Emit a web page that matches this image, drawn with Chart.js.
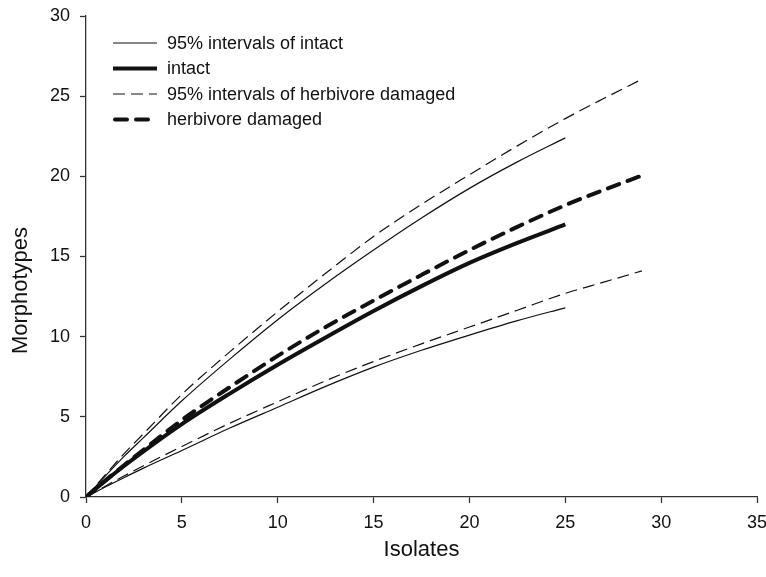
<!DOCTYPE html>
<html>
<head>
<meta charset="utf-8">
<title>Morphotype accumulation</title>
<script src="https://cdn.jsdelivr.net/npm/chart.js@4/dist/chart.umd.min.js"></script>
<style>
  html, body { margin: 0; padding: 0; background: #fff; }
  #wrap { width: 766px; height: 577px; position: relative; }
</style>
</head>
<body>
<div id="wrap"><canvas id="chart"></canvas></div>
<script>
// rarefaction curves, read at these numbers of isolates
let isolatesIntact = [0, 1, 2, 3, 5, 7.5, 10, 12.5, 15, 17.5, 20, 22.5, 25]
let intactMean = [0, 1.0, 1.95, 2.85, 4.55, 6.45, 8.25, 9.95, 11.6, 13.15, 14.6, 15.85, 17.0]
let intactUpper = [0, 1.3, 2.55, 3.7, 6.0, 8.6, 11.06, 13.3, 15.4, 17.4, 19.25, 20.9, 22.4]
let intactLower = [0, 0.62, 1.22, 1.8, 2.9, 4.3, 5.6, 6.9, 8.1, 9.15, 10.1, 11.0, 11.8]

let isolatesDamaged = [0, 1, 2, 3, 5, 7.5, 10, 12.5, 15, 17.5, 20, 22.5, 25, 27, 29]
let damagedMean = [0, 1.02, 2.0, 2.95, 4.8, 6.85, 8.8, 10.6, 12.25, 13.85, 15.4, 16.85, 18.2, 19.15, 20.05]
let damagedUpper = [0, 1.38, 2.72, 3.95, 6.4, 9.05, 11.56, 13.95, 16.25, 18.25, 20.1, 21.9, 23.6, 24.85, 26.06]
let damagedLower = [0, 0.67, 1.32, 1.95, 3.15, 4.6, 5.94, 7.25, 8.45, 9.55, 10.6, 11.65, 12.7, 13.4, 14.1]

let xTickValues = [0, 5, 10, 15, 20, 25, 30, 35]
let yTickValues = [0, 5, 10, 15, 20, 25, 30]

let legendLabels = [
  '95% intervals of intact',
  'intact',
  '95% intervals of herbivore damaged',
  'herbivore damaged'
]

const FONT = "'Liberation Sans', Arial, sans-serif"
const INK = '#111'

function toPoints(xs, ys) {
  return xs.map((x, i) => ({ x: x, y: ys[i] }))
}

function curve(label, xs, ys, style) {
  return {
    label: label,
    data: toPoints(xs, ys),
    borderColor: INK,
    backgroundColor: INK,
    borderWidth: style.width,
    borderDash: style.dash || [],
    borderCapStyle: style.cap || 'butt',
    pointRadius: 0,
    fill: false,
    cubicInterpolationMode: 'monotone'
  }
}

let thin = { width: 1.2 }
let thick = { width: 4 }
let thinDash = { width: 1.2, dash: [12, 6] }
let thickDash = { width: 4, dash: [12, 9], cap: 'round' }

// legend drawn inside the plot, top left
const insideLegend = {
  id: 'insideLegend',
  afterDatasetsDraw: (chart) => {
    const { ctx, chartArea } = chart
    // legend row i takes the style of this dataset
    let rows = [0, 2, 4, 3]
    ctx.save()
    ctx.font = '18px ' + FONT
    ctx.textBaseline = 'middle'
    ctx.fillStyle = INK
    rows.forEach((di, i) => {
      let ds = chart.data.datasets[di]
      let y = chartArea.top + 27 + i * 25.5
      let x0 = chartArea.left + 27
      ctx.beginPath()
      ctx.strokeStyle = ds.borderColor
      ctx.lineWidth = ds.borderWidth
      ctx.lineCap = ds.borderCapStyle
      ctx.setLineDash(ds.borderDash)
      ctx.moveTo(x0 + (ds.borderCapStyle === 'round' ? 2 : 0), y)
      ctx.lineTo(x0 + 44, y)
      ctx.stroke()
      ctx.setLineDash([])
      ctx.fillText(legendLabels[i], x0 + 54, y + 1)
    })
    ctx.restore()
  }
}

// y axis title sits a little below the middle of the axis
const yTitle = {
  id: 'yTitle',
  afterDraw: (chart) => {
    const { ctx, chartArea } = chart
    ctx.save()
    ctx.translate(21, (chartArea.top + chartArea.bottom) / 2 + 34)
    ctx.rotate(-Math.PI / 2)
    ctx.font = '22px ' + FONT
    ctx.fillStyle = INK
    ctx.textAlign = 'center'
    ctx.textBaseline = 'middle'
    ctx.fillText('Morphotypes', 0, 0)
    ctx.restore()
  }
}

function plotCurves(dom) {
  return new Chart(dom.getContext('2d'), {
    type: 'line',
    data: {
      datasets: [
        curve('95% intervals of intact', isolatesIntact, intactUpper, thin),
        curve('95% intervals of intact', isolatesIntact, intactLower, thin),
        curve('intact', isolatesIntact, intactMean, thick),
        curve('herbivore damaged', isolatesDamaged, damagedMean, thickDash),
        curve('95% intervals of herbivore damaged', isolatesDamaged, damagedUpper, thinDash),
        curve('95% intervals of herbivore damaged', isolatesDamaged, damagedLower, thinDash)
      ]
    },
    plugins: [insideLegend, yTitle],
    options: {
      responsive: true,
      maintainAspectRatio: false,
      animation: false,
      layout: {
        padding: { left: 0, right: 9, top: 16, bottom: 14 }
      },
      plugins: {
        legend: { display: false },
        tooltip: { enabled: false }
      },
      scales: {
        x: {
          type: 'linear',
          min: 0,
          max: 35,
          afterBuildTicks: (scale) => {
            scale.ticks = xTickValues.map(v => ({ value: v }))
          },
          afterFit: (scale) => {
            // fixed box: labels + title below, no extra room on the sides
            scale.height = 66
            scale.paddingLeft = 0
            scale.paddingRight = 0
          },
          border: { display: true, color: '#333', width: 1.3 },
          grid: {
            display: true,
            drawOnChartArea: false,
            drawTicks: true,
            tickLength: 6,
            tickColor: '#333',
            tickWidth: 1.3
          },
          ticks: {
            color: INK,
            padding: 9,
            maxRotation: 0,
            font: { family: FONT, size: 18 }
          },
          title: {
            display: true,
            text: 'Isolates',
            color: INK,
            padding: { top: 1, bottom: 0 },
            font: { family: FONT, size: 22 }
          }
        },
        y: {
          type: 'linear',
          min: 0,
          max: 30,
          afterBuildTicks: (scale) => {
            scale.ticks = yTickValues.map(v => ({ value: v }))
          },
          afterFit: (scale) => {
            scale.width = 86
            scale.paddingTop = 0
            scale.paddingBottom = 0
          },
          border: { display: true, color: '#333', width: 1.3 },
          grid: {
            display: true,
            drawOnChartArea: false,
            drawTicks: true,
            tickLength: 6,
            tickColor: '#333',
            tickWidth: 1.3
          },
          ticks: {
            color: INK,
            padding: 10,
            font: { family: FONT, size: 18 }
          }
        }
      }
    }
  })
}

plotCurves(document.getElementById('chart'))
</script>
</body>
</html>
